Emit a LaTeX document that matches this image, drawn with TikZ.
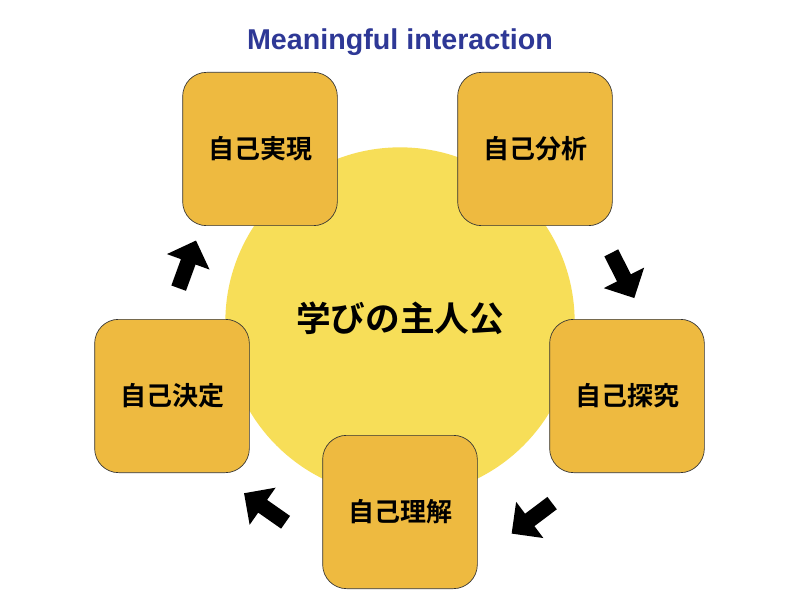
\documentclass[tikz,border=0pt]{standalone}
\usepackage{fontspec}
\setmainfont{Liberation Sans}
\newfontfamily\cjk{Noto Sans CJK JP}[BoldFont={* Bold}]
\usetikzlibrary{shapes.arrows}
\definecolor{boxc}{RGB}{238,186,64}
\definecolor{circ}{RGB}{247,222,88}
\definecolor{ttl}{RGB}{46,56,150}
\tikzset{
 box/.style={draw=black!80,line width=0.5pt,fill=boxc,rounded corners=18pt,minimum width=116pt,minimum height=115pt,font=\cjk\bfseries\fontsize{19.5pt}{22pt}\selectfont},
 blk/.style={single arrow,fill=black,minimum height=38pt,minimum width=34pt,single arrow head extend=9pt,inner sep=4.5pt}
}
\begin{document}
\begin{tikzpicture}[x=0.75pt,y=-0.75pt]
\useasboundingbox (0,0) rectangle (800,599);
\fill[white] (0,0) rectangle (800,599);
\node[circle,fill=circ,minimum size=262pt,inner sep=0] (c) at (400,322) {};
\node[font=\cjk\bfseries\fontsize{26pt}{30pt}\selectfont] (ct) at (400,318) {学びの主人公};
\node[font=\bfseries\fontsize{21.5pt}{24pt}\selectfont,text=ttl] (t) at (400,42) {Meaningful interaction};
\node[box] (a) at (260,149) {自己実現};
\node[box] (b) at (535,149) {自己分析};
\node[box] (r) at (627,396) {自己探究};
\node[box] (d) at (400,512) {自己理解};
\node[box] (l) at (172,396) {自己決定};
\node[blk,rotate=70] (a1) at (186,268) {};
\node[blk,rotate=-63] (a2) at (621,272) {};
\node[blk,rotate=217] (a3) at (535,516) {};
\node[blk,rotate=145] (a4) at (268,510) {};
\end{tikzpicture}
\end{document}
